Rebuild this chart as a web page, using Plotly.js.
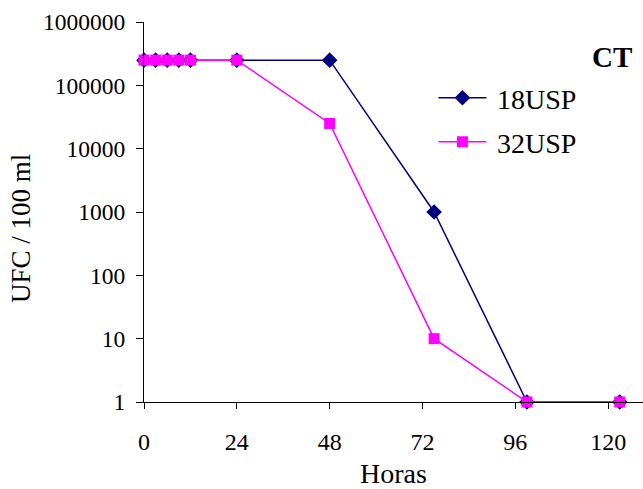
<!DOCTYPE html>
<html>
<head>
<meta charset="utf-8">
<script src="https://cdn.plot.ly/plotly-3.0.1.min.js"></script>
<style>body{margin:0;padding:0;background:#fff;} #chart{width:643px;height:489px;}</style>
</head>
<body>
<div id="chart"></div>
<script>
// Data
const hours = [0, 3, 6, 9, 12, 24, 48, 75, 99, 123];
const ufc18USP = [250000, 250000, 250000, 250000, 250000, 250000, 250000, 1000, 1, 1];
const ufc32USP = [250000, 250000, 250000, 250000, 250000, 250000, 25000, 10, 1, 1];
const yTickVals = [1, 10, 100, 1000, 10000, 100000, 1000000];
const yTickText = ["1", "10", "100", "1000", "10000", "100000", "1000000"];
const xTickVals = [0, 24, 48, 72, 96, 120];
const seriesNames = ["18USP", "32USP"];

const serif = "'Liberation Serif', 'Times New Roman', serif";

// pixel -> paper helpers (plot area: x 144..643, y 22..402)
const px2x = p => (p - 144) / 499;
const py2y = p => (402 - p) / 380;

const traces = [
  {
    x: hours, y: ufc18USP, name: "\u2009" + seriesNames[0], type: "scatter", mode: "lines+markers",
    line: {color: "#000080", width: 1.5},
    marker: {symbol: "diamond", size: 12, color: "#000080"},
    cliponaxis: false,
    legend: "legend"
  },
  {
    x: hours, y: ufc32USP, name: "\u2009" + seriesNames[1], type: "scatter", mode: "lines+markers",
    line: {color: "#FF00FF", width: 1.5},
    marker: {symbol: "square", size: 11, color: "#FF00FF"},
    cliponaxis: false,
    legend: "legend2"
  }
];

const legendCommon = {
  font: {family: serif, size: 28, color: "#000"},
  bgcolor: "rgba(0,0,0,0)", itemwidth: 48,
  xref: "paper", yref: "paper", xanchor: "left", yanchor: "middle"
};

const layout = {
  width: 643, height: 489,
  margin: {l: 144, r: 0, t: 22, b: 87},
  paper_bgcolor: "#fff", plot_bgcolor: "#fff",
  font: {family: serif, color: "#000"},
  showlegend: true,
  legend: Object.assign({}, legendCommon, {x: 0.58, y: 0.80}),
  legend2: Object.assign({}, legendCommon, {x: 0.58, y: 0.684}),
  xaxis: {
    range: [0, 129], tickvals: xTickVals, ticks: "outside", ticklen: 6,
    tickcolor: "#000", showline: true, linecolor: "#000", linewidth: 1,
    showgrid: false, zeroline: false, ticklabelstandoff: 12,
    tickfont: {family: serif, size: 24, color: "#000"},
    title: {text: "Horas", font: {family: serif, size: 28, color: "#000"}, standoff: 11}
  },
  yaxis: {
    type: "log", range: [0, 6], tickvals: yTickVals, ticktext: yTickText,
    ticks: "outside", ticklen: 7, tickcolor: "#000",
    showline: true, linecolor: "#000", linewidth: 1,
    showgrid: false, zeroline: false, ticklabelstandoff: 6,
    tickfont: {family: serif, size: 23.5, color: "#000"}
  },
  annotations: [
    {
      text: "<b>CT</b>", xref: "paper", yref: "paper", x: 0.982, y: 0.908,
      xanchor: "right", yanchor: "middle", showarrow: false,
      font: {family: serif, size: 29, color: "#000"}
    },
    {
      text: "UFC / 100 ml", xref: "paper", yref: "paper", x: px2x(21), y: py2y(229),
      xanchor: "center", yanchor: "middle", showarrow: false, textangle: -90,
      font: {family: serif, size: 27, color: "#000"}
    }
  ]
};

Plotly.newPlot("chart", traces, layout, {displayModeBar: false, staticPlot: true});
</script>
</body>
</html>
